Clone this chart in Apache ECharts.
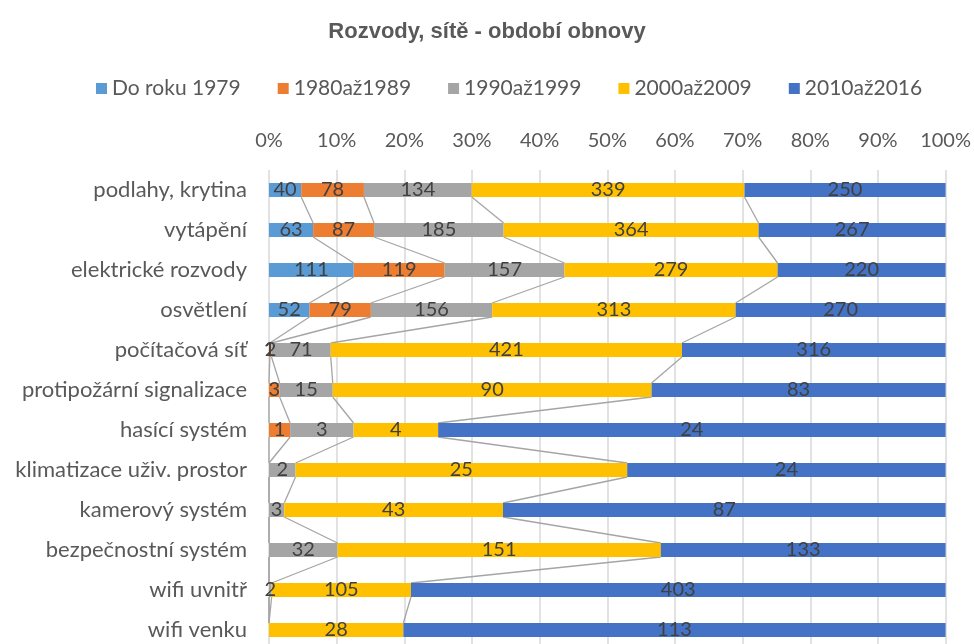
<!DOCTYPE html>
<html><head><meta charset="utf-8">
<script src="https://cdn.jsdelivr.net/npm/echarts@6/dist/echarts.min.js"></script>
<style>html,body{margin:0;padding:0;background:#fff;overflow:hidden}#c{width:974px;height:650px}</style>
</head><body><div id="c"></div>
<script>
const categories = ['podlahy, krytina','vytápění','elektrické rozvody','osvětlení','počítačová síť','protipožární signalizace','hasící systém','klimatizace uživ. prostor','kamerový systém','bezpečnostní systém','wifi uvnitř','wifi venku'];
const seriesNames = ['Do roku 1979','1980až1989','1990až1999','2000až2009','2010až2016'];
const doRoku1979 = [40, 63, 111, 52, 1, null, null, null, null, null, null, null];
const r1980az1989 = [78, 87, 119, 79, 2, 3, 1, null, null, null, null, null];
const r1990az1999 = [134, 185, 157, 156, 71, 15, 3, 2, 3, 32, 2, null];
const r2000az2009 = [339, 364, 279, 313, 421, 90, 4, 25, 43, 151, 105, 28];
const r2010az2016 = [250, 267, 220, 270, 316, 83, 24, 24, 87, 133, 403, 113];
const xTicks = [0,10,20,30,40,50,60,70,80,90,100];

const raw = [doRoku1979, r1980az1989, r1990az1999, r2000az2009, r2010az2016];
const colors = ['#5B9BD5','#ED7D31','#A5A5A5','#FFC000','#4472C4'];
const totals = categories.map((c,i)=>raw.reduce((s,a)=>s+(a[i]||0),0));
const pct = raw.map(a=>a.map((v,i)=>v==null?null:v/totals[i]*100));
const cum = raw.map((a,k)=>categories.map((c,i)=>{let s=0;for(let j=0;j<=k;j++)s+=(raw[j][i]||0);return s/totals[i]*100;}));
const BAR = 14;
const FONT = 'Lato, "Open Sans", sans-serif';

const series = raw.map((a,k)=>({
  name: seriesNames[k], type:'bar', stack:'t', barWidth:BAR, z:3,
  itemStyle:{color:colors[k]},
  label:{show:true, position:'inside', color:'#404040', fontSize:20, fontFamily:FONT,
    formatter:p=>raw[k][p.dataIndex]==null?'':String(raw[k][p.dataIndex])},
  data: pct[k]
}));
series.push({
  type:'custom', z:2, silent:true,
  renderItem:(params, api)=>{
    const i = api.value(0);
    if (i >= categories.length-1) return null;
    const children = [];
    for (let k=0;k<4;k++){
      const p1 = api.coord([cum[k][i], i]);
      const p2 = api.coord([cum[k][i+1], i+1]);
      children.push({type:'line', shape:{x1:p1[0], y1:p1[1]+BAR/2, x2:p2[0], y2:p2[1]-BAR/2},
        style:{stroke:'#A5A5A5', lineWidth:1.3}});
    }
    return {type:'group', children};
  },
  data: categories.map((c,i)=>[i])
});

const chart = echarts.init(document.getElementById('c'), null, {renderer:'canvas'});
chart.setOption({
  animation:false,
  backgroundColor:'#fff',
  title:{text:'Rozvody, sítě - období obnovy', left:'center', top:16,
    textStyle:{fontSize:22, fontWeight:'bold', color:'#595959', fontFamily:'"Liberation Sans", Arial, sans-serif'}},
  legend:{top:73, left:91, itemWidth:11, itemHeight:11, itemGap:37, icon:'rect',
    textStyle:{fontSize:21, color:'#595959', fontFamily:FONT}, data:seriesNames},
  grid:{left:269, right:28, top:170, bottom:0, containLabel:false},
  xAxis:{type:'value', position:'top', min:0, max:100, interval:10,
    axisLabel:{formatter:v=>xTicks.includes(v)?v+'%':'', fontSize:20, color:'#595959', fontFamily:FONT, margin:19},
    axisLine:{show:false}, axisTick:{show:false},
    splitLine:{lineStyle:{color:'#D9D9D9', width:1.5}}},
  yAxis:{type:'category', inverse:true, data:categories,
    axisLabel:{fontSize:22, color:'#595959', fontFamily:FONT, margin:22},
    axisLine:{show:false}, axisTick:{show:false}},
  series
});
</script></body></html>
